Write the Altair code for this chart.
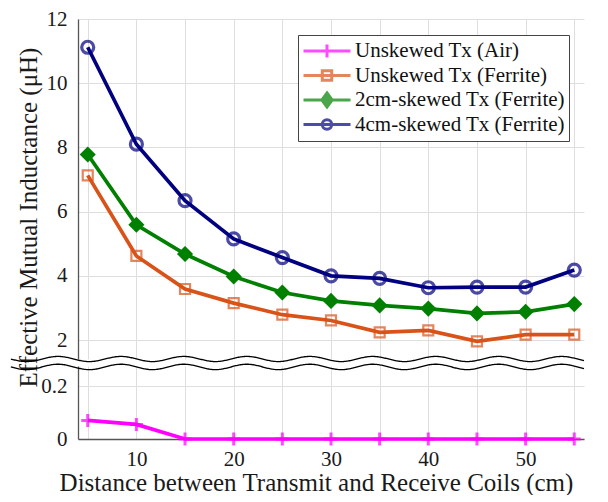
import altair as alt
import pandas as pd

# ---- data ----
distance = [5, 10, 15, 20, 25, 30, 35, 40, 45, 50, 55]
air = [0.07, 0.055, 0, 0, 0, 0, 0, 0, 0, 0, 0]
ferrite = [7.13, 4.62, 3.59, 3.15, 2.79, 2.61, 2.24, 2.30, 1.96, 2.17, 2.17]
skew2 = [7.78, 5.59, 4.68, 3.98, 3.48, 3.22, 3.08, 2.98, 2.83, 2.88, 3.12]
skew4 = [11.12, 8.10, 6.34, 5.15, 4.57, 4.00, 3.92, 3.63, 3.65, 3.65, 4.18]

series_names = ["Unskewed Tx (Air)", "Unskewed Tx (Ferrite)",
                "2cm-skewed Tx (Ferrite)", "4cm-skewed Tx (Ferrite)"]
series_colors = ["#ff00ff", "#d95319", "#008000", "#000080"]

x_grid = [5, 10, 15, 20, 25, 30, 35, 40, 45, 50, 55]
upper_ticks = [2, 4, 6, 8, 10, 12]
lower_ticks = [0, 0.2]

FONT = "Liberation Serif"
W = 506
H_UP, H_LO = 340, 73
xscale = alt.Scale(domain=[4, 56], nice=False, zero=False)
yscale_up = alt.Scale(domain=[1.41, 12], nice=False, zero=False)
yscale_lo = alt.Scale(domain=[0, 0.2755], nice=False, zero=False)

markers = [
    dict(shape="M-1,0H1M0,-1V1", size=169, filled=False, strokeWidth=3),
    dict(shape="square", size=100, filled=False, strokeWidth=2.2),
    dict(shape="diamond", size=260, filled=True, opacity=1),
    dict(shape="circle", size=144, filled=False, strokeWidth=3.2),
]
legend_paths = [
    "M-1,0H1M0,-0.28V0.28",
    "M-1,0H1M-0.2,-0.2H0.2V0.2H-0.2Z",
    "M-1,0H1M0,-0.3L0.22,0L0,0.3L-0.22,0ZM0,-0.15L0.11,0L0,0.15L-0.11,0Z",
    "M-1,0H1M-0.2,0A0.2,0.2,0,1,0,0.2,0A0.2,0.2,0,1,0,-0.2,0",
]

x_up_axis = alt.Axis(values=x_grid, labels=False, ticks=False, domain=False,
                     grid=True, title=None)
x_lo_axis = alt.Axis(values=x_grid, ticks=False, domain=True, grid=True,
                     labelExpr="datum.value % 10 === 0 ? datum.label : ''",
                     title="Distance between Transmit and Receive Coils (cm)",
                     labelFont=FONT, titleFont=FONT, titleX=238,
                     labelPadding=9, titlePadding=1)
y_up_axis = alt.Axis(values=upper_ticks, format="d", ticks=False, grid=True,
                     title="Effective Mutual Inductance (\u03bcH)",
                     labelFont=FONT, titleFont=FONT,
                     titleY=198, labelPadding=11, titlePadding=5)
y_lo_axis = alt.Axis(values=lower_ticks, format="~g", ticks=False, grid=True,
                     labelFont=FONT, title=None, labelPadding=11)


def series_layers(values, color, marker, ysc, yax, xax):
    df = pd.DataFrame({"distance": distance, "value": values})
    base = alt.Chart(df).encode(
        x=alt.X("distance:Q", scale=xscale, axis=xax),
        y=alt.Y("value:Q", scale=ysc, axis=yax),
    )
    line = base.mark_line(color=color, strokeWidth=3.7)
    pts = base.mark_point(color=color, **marker)
    return [line, pts]


def wave(base, amp, ysc, yax, xax):
    return alt.Chart(alt.sequence(-2.9, 56.05, 0.1, as_="t")).transform_calculate(
        w=f"{base} + {amp} * cos(2 * PI * (datum.t - 21.35) / 6.47)"
    ).mark_line(color="black", strokeWidth=1.3).encode(
        x=alt.X("t:Q", scale=xscale, axis=xax),
        y=alt.Y("w:Q", scale=ysc, axis=yax),
    )


# legend layer (no drawn marks; legend comes from scale domains)
legend_df = pd.DataFrame({"series": series_names})
leg = alt.Legend(title=None, labelFont=FONT)
legend_layer = alt.Chart(legend_df).transform_filter("false").mark_point(
    filled=False, size=2209, strokeWidth=3
).encode(
    color=alt.Color("series:N", sort=series_names,
                    scale=alt.Scale(domain=series_names, range=series_colors),
                    legend=leg),
    shape=alt.Shape("series:N", sort=series_names,
                    scale=alt.Scale(domain=series_names, range=legend_paths),
                    legend=leg),
)

upper_layers = []
for vals, col, mk in zip([ferrite, skew2, skew4], series_colors[1:], markers[1:]):
    upper_layers += series_layers(vals, col, mk, yscale_up, y_up_axis, x_up_axis)
upper = alt.layer(*upper_layers,
                  wave(1.41, 0.08, yscale_up, y_up_axis, x_up_axis),
                  legend_layer).properties(width=W, height=H_UP)

lower_layers = series_layers(air, series_colors[0], markers[0], yscale_lo,
                             y_lo_axis, x_lo_axis)
lower = alt.layer(*lower_layers,
                  wave(0.272, 0.0102, yscale_lo, y_lo_axis, x_lo_axis)).properties(
    width=W, height=H_LO)

chart = alt.vconcat(upper, lower, spacing=7, bounds="flush").properties(
    padding={"left": 0, "top": 0, "right": 5, "bottom": 0}
).configure(font=FONT).configure_view(stroke=None).configure_axis(
    labelFont=FONT, titleFont=FONT, labelFontSize=21, titleFontSize=25,
    labelColor="#1a1a1a", titleColor="#1a1a1a", titleFontWeight="normal",
    gridColor="#dedede", gridWidth=1, domainColor="#555555", domainWidth=1.3,
).configure_legend(
    orient="none", legendX=220, legendY=16,
    labelFont=FONT, labelFontSize=21, labelColor="#111111", labelLimit=400,
    strokeColor="#444444", fillColor="white", padding=4,
    symbolSize=2209, symbolStrokeWidth=3, clipHeight=24, rowPadding=0.5,
    labelOffset=3,
)

chart.save("out.html", embed_options={"renderer": "svg", "actions": False})
